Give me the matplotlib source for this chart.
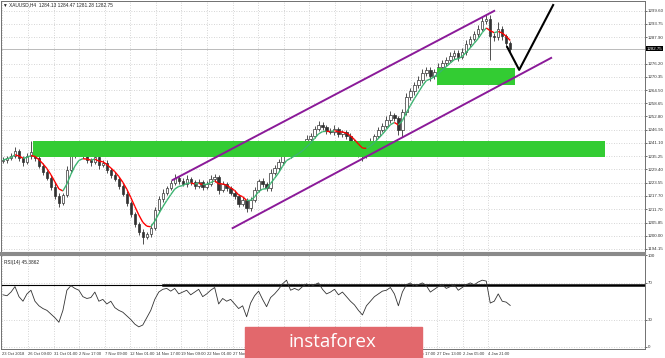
import numpy as np
import pandas as pd
import matplotlib
matplotlib.use('Agg')
import matplotlib.pyplot as plt
from matplotlib.collections import LineCollection
from matplotlib.patches import Rectangle

# XAUUSD H4 candles (every 2nd bar), closes
closes = [1233.5, 1234.4, 1235.3, 1237.5, 1234.4, 1232.6, 1235.3, 1237.1, 1234.4, 1230.9,
          1228.2, 1225.6, 1221.6, 1217.6, 1214.5, 1218.0, 1229.1, 1235.7, 1238.0, 1238.4,
          1235.7, 1233.5, 1232.6, 1234.8, 1231.3, 1232.2, 1229.1, 1226.9, 1225.1, 1222.0,
          1218.5, 1214.5, 1209.6, 1205.2, 1201.7, 1199.5, 1200.8, 1203.4, 1211.4, 1216.3,
          1219.0, 1221.1, 1223.4, 1225.6, 1224.2, 1222.9, 1225.1, 1223.8, 1222.0, 1223.8,
          1221.6, 1222.9, 1225.1, 1226.0, 1220.3, 1222.9, 1221.1, 1219.0, 1217.6, 1214.1,
          1215.8, 1212.3, 1215.8, 1220.3, 1224.2, 1222.9, 1221.1, 1227.8, 1230.0, 1232.6,
          1236.6, 1238.4, 1236.2, 1237.5, 1238.4, 1240.2, 1242.8, 1244.2, 1247.3, 1249.0,
          1248.2, 1246.4, 1245.9, 1247.3, 1245.0, 1245.9, 1244.2, 1241.9, 1239.3, 1236.6,
          1235.3, 1238.4, 1241.9, 1244.2, 1246.8, 1248.6, 1251.2, 1253.4, 1252.1, 1246.8,
          1254.8, 1261.4, 1264.1, 1266.7, 1269.0, 1272.0, 1273.4, 1270.7, 1272.5, 1274.7,
          1276.5, 1277.8, 1279.6, 1281.0, 1279.2, 1281.3, 1284.9, 1287.1, 1289.3, 1291.5,
          1295.1, 1296.0, 1288.4, 1288.0, 1291.5, 1288.4, 1285.3, 1282.75]
first_open = 1233.0
wick_up = [1.2, 0.8, 1.5, 1.8, 0.9, 1.1, 1.4, 5.0, 1.0, 0.8,
           1.3, 0.9, 1.1, 1.6, 1.2, 1.0, 1.7, 1.4, 2.2, 1.1,
           0.9, 1.3, 1.0, 2.0, 0.8, 1.2, 1.5, 0.9, 1.1, 0.8,
           1.0, 1.2, 0.9, 1.1, 0.8, 1.3, 1.0, 1.6, 1.4, 1.1,
           1.5, 1.0, 1.2, 1.8, 0.9, 1.3, 1.6, 1.0, 0.8, 1.4,
           1.1, 1.2, 1.7, 1.5, 0.9, 1.3, 1.0, 0.8, 1.1, 1.0,
           1.4, 0.9, 1.2, 1.5, 1.0, 1.3, 0.8, 1.6, 1.2, 1.4,
           1.8, 1.1, 1.0, 1.3, 1.5, 1.2, 1.6, 1.1, 1.4, 2.0,
           1.3, 1.0, 1.2, 1.6, 0.9, 1.1, 1.0, 1.2, 0.8, 1.0,
           1.3, 1.1, 1.5, 1.0, 1.2, 1.4, 1.7, 1.9, 1.1, 1.0,
           1.3, 1.8, 1.5, 1.2, 1.6, 1.9, 1.4, 1.1, 1.3, 1.7,
           1.2, 1.5, 1.8, 1.4, 1.0, 1.6, 1.9, 1.3, 1.5, 1.8,
           1.6, 1.7, 1.5, 1.2, 3.2, 1.4, 1.0, 1.1]
wick_dn = [1.0, 1.2, 0.9, 1.1, 1.4, 1.6, 0.8, 1.2, 1.5, 1.1,
           1.3, 1.0, 1.4, 1.2, 1.9, 1.1, 0.9, 1.0, 1.3, 1.2,
           1.4, 1.1, 1.8, 0.9, 1.6, 1.0, 1.3, 1.2, 1.0, 1.4,
           1.1, 1.3, 1.5, 1.2, 1.4, 3.0, 1.1, 1.3, 1.0, 0.9,
           1.2, 1.0, 0.8, 1.1, 1.3, 1.0, 1.2, 1.4, 1.1, 0.9,
           1.5, 1.0, 0.8, 1.2, 1.6, 1.1, 1.3, 1.0, 1.2, 1.4,
           1.1, 1.8, 1.2, 0.9, 1.0, 1.3, 1.5, 1.1, 0.9, 1.2,
           1.0, 1.1, 1.6, 1.0, 0.9, 1.2, 1.0, 1.3, 1.1, 0.9,
           1.2, 1.4, 1.0, 1.1, 1.5, 1.2, 1.3, 1.6, 1.4, 1.8,
           2.0, 1.1, 1.0, 1.2, 0.9, 1.1, 1.0, 1.2, 1.5, 2.2,
           3.0, 1.4, 1.2, 1.6, 1.1, 1.3, 1.5, 2.0, 1.4, 1.2,
           1.0, 1.3, 1.1, 1.2, 1.9, 1.0, 1.1, 1.3, 1.0, 1.2,
           1.1, 1.4, 10.5, 2.0, 1.3, 1.6, 1.8, 1.5]
rsi = [57, 56, 60, 66, 55, 50, 58, 62, 50, 45,
       42, 40, 36, 32, 27, 40, 62, 67, 64, 62,
       55, 53, 54, 60, 50, 52, 47, 50, 43, 40,
       38, 34, 30, 25, 22, 24, 32, 40, 52, 60,
       63, 64, 61, 64, 58, 60, 62, 57, 60, 63,
       55, 58, 62, 65, 47, 53, 50, 52, 47, 42,
       45, 33, 48, 56, 61, 52, 44, 54, 58, 63,
       69, 73, 62, 64, 62, 66, 69, 66, 68, 70,
       63, 58, 60, 63, 57, 60, 55, 50, 46, 40,
       35, 45, 50, 55, 58, 61, 62, 65, 58, 45,
       60, 68, 70, 66, 68, 70, 67, 60, 63, 66,
       68, 64, 66, 68, 62, 65, 68, 70, 68, 71,
       73, 72, 48, 50, 58, 50, 49, 45.39]

price_ticks = [1194.15, 1200.00, 1205.85, 1211.70, 1217.70, 1223.55, 1229.40, 1235.25,
               1241.10, 1246.95, 1252.80, 1258.65, 1264.50, 1270.35, 1276.20,
               1287.90, 1293.75, 1299.60]
rsi_ticks = [0, 30, 70, 100]
date_labels = ['23 Oct 2018', '26 Oct 09:00', '31 Oct 01:00', '2 Nov 17:00', '7 Nov 09:00',
               '12 Nov 01:00', '14 Nov 17:00', '19 Nov 09:00', '22 Nov 01:00', '27 Nov 09:00',
               '29 Nov 17:00', '4 Dec 09:00', '7 Dec 01:00', '11 Dec 17:00', '14 Dec 09:00',
               '19 Dec 01:00', '21 Dec 17:00', '27 Dec 13:00', '2 Jan 05:00', '4 Jan 21:00']
last_price = 1282.75

# drawn objects (bar index, price)
zone_big = (7.5, 150.75, 1234.9, 1242.0)
zone_top = (108.75, 128.25, 1266.7, 1274.2)
chan_upper = ([42.5, 123.0], [1224.7, 1299.5])
chan_lower = ([57.5, 137.25], [1203.4, 1278.7])
proj_x = [126.25, 129.25, 137.75]
proj_y = [1283.5, 1273.4, 1302.1]

plt.rcParams['font.family'] = ['Liberation Sans', 'DejaVu Sans']

c = np.array(closes)
o = np.array([first_open] + closes[:-1])
hi = np.maximum(o, c) + np.array(wick_up)
lo = np.minimum(o, c) - np.array(wick_dn)
x = np.arange(len(c))

fig = plt.figure(figsize=(6.65, 3.58), dpi=100)
ax = fig.add_axes([1 / 665, 1 - 253 / 358, 644 / 665, 252 / 358])
ax2 = fig.add_axes([1 / 665, 1 - 349 / 358, 644 / 665, 94 / 358])

grid_x = -0.125 + 6.4 * np.arange(len(date_labels))
for a in (ax, ax2):
    a.set_xlim(-0.5, 160.75)
    a.set_xticks(grid_x)
    a.grid(color='#c8c8c8', linestyle=(0, (1, 2)), lw=0.6)
    a.set_axisbelow(True)
    a.yaxis.tick_right()
    a.tick_params(axis='y', labelsize=3.2, length=1.2, pad=0.6, colors='#333333', width=0.5)
    for s in a.spines.values():
        s.set_color('#707070')
        s.set_linewidth(0.7)

# candles
ax.vlines(x, lo, hi, color='#333333', lw=0.6, zorder=2)
up = c >= o
body = np.maximum(np.abs(c - o), 0.3)
ax.bar(x[up], body[up], bottom=o[up], width=0.6, color='white', edgecolor='#333333', lw=0.5, zorder=2)
ax.bar(x[~up], body[~up], bottom=c[~up], width=0.6, color='#333333', edgecolor='#333333', lw=0.5, zorder=2)

# green zones
for x0, x1, y0, y1 in (zone_big, zone_top):
    ax.add_patch(Rectangle((x0, y0), x1 - x0, y1 - y0, color='#33cc33', zorder=3, lw=0))

# moving average coloured by slope
ma = pd.Series(closes).ewm(span=5).mean().values
pts = np.column_stack([x, ma])
segs = np.stack([pts[:-1], pts[1:]], axis=1)
cols = ['#3cb371' if ma[i + 1] >= ma[i] else '#ff0000' for i in range(len(ma) - 1)]
ax.add_collection(LineCollection(segs, colors=cols, linewidths=1.0, zorder=4))

# channel and projection
ax.plot(*chan_upper, color='#8b1a99', lw=1.4, zorder=5)
ax.plot(*chan_lower, color='#8b1a99', lw=1.4, zorder=5)
ax.plot(proj_x, proj_y, color='black', lw=1.5, zorder=5)
ax.axhline(last_price, color='#b0b0b0', lw=0.6, zorder=1)

ax.set_ylim(1192.38, 1303.88)
ax.set_yticks(price_ticks)
ax.set_yticklabels(['%.2f' % v for v in price_ticks])
ax.tick_params(axis='x', length=0, labelbottom=False)
ax.text(1.002, last_price, '%.2f' % last_price, transform=ax.get_yaxis_transform(),
        fontsize=3.2, color='white', va='center', ha='left',
        bbox=dict(fc='black', ec='none', pad=0.5))
ax.spines['bottom'].set_linewidth(1.5)
ax.spines['bottom'].set_color('#8a8a8a')

# RSI panel
ax2.plot(x, rsi, color='#333333', lw=0.6, zorder=3)
ax2.axhline(68, color='black', lw=0.8, zorder=2)
ax2.plot([40, 160.75], [68, 68], color='black', lw=1.8, zorder=2)
ax2.set_ylim(-2.2, 100.5)
ax2.set_yticks(rsi_ticks)
ax2.set_yticklabels([str(v) for v in rsi_ticks])
ax2.set_xticklabels(date_labels)
ax2.tick_params(axis='x', length=0, labelsize=3.0, pad=2, colors='#333333')
for lab in ax2.get_xticklabels():
    lab.set_ha('left')
ax2.spines['top'].set_linewidth(1.5)
ax2.spines['top'].set_color('#8a8a8a')
ax2.text(0.004, 0.95, 'RSI(14) 45.3862', transform=ax2.transAxes, fontsize=3.4,
         va='top', color='#222222')

fig.text(3 / 665, 1 - 5 / 358, '\u25bc XAUUSD,H4  1284.13 1284.47 1281.28 1282.75',
         fontsize=3.4, va='center', color='#222222')

# watermark
fig.patches.append(Rectangle((245 / 665, 0), 177 / 665, 31 / 358, transform=fig.transFigure,
                             color='#e2686c', zorder=10))
fig.text(332 / 665, 16 / 358, 'instaforex', fontsize=13.5, color='white', ha='center',
         va='center', family=['Open Sans', 'DejaVu Sans'], zorder=11)

fig.savefig('out.png', dpi=100)
